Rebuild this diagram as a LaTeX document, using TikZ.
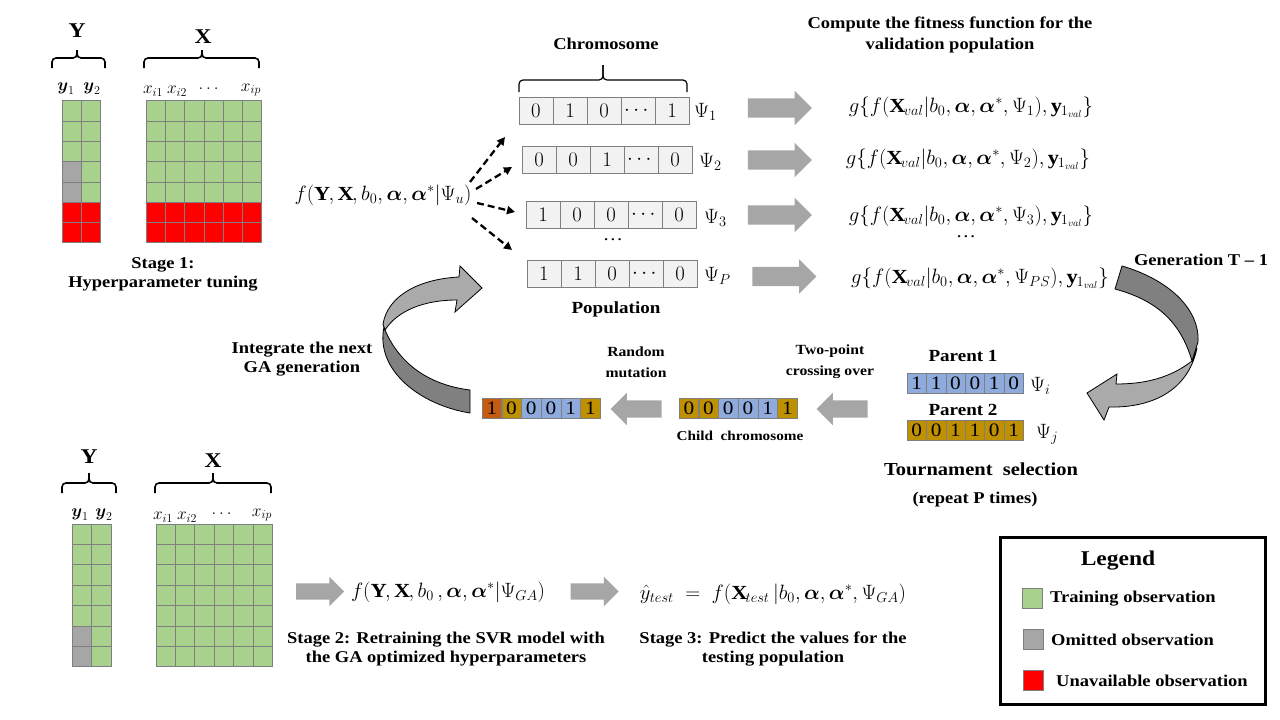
\documentclass[tikz,border=0pt]{standalone}
\usepackage{fontspec}
\setmainfont{Liberation Serif}[FakeStretch=1.12]
\usepackage{amsmath, amssymb}
\usetikzlibrary{shapes, arrows.meta, positioning, calc, decorations.pathreplacing}

\definecolor{traingreen}{RGB}{169, 209, 142}
\definecolor{omitgray}{RGB}{166, 166, 166}
\definecolor{unavred}{RGB}{255, 0, 0}
\definecolor{cellline}{RGB}{127, 127, 127}
\definecolor{genecell}{RGB}{242, 242, 242}
\definecolor{geneblue}{RGB}{143, 170, 220}
\definecolor{genegold}{RGB}{191, 144, 0}
\definecolor{genemut}{RGB}{197, 90, 17}
\definecolor{blockgray}{RGB}{166, 166, 166}
\definecolor{benddark}{RGB}{128, 128, 128}
\definecolor{bendlight}{RGB}{170, 170, 170}

\begin{document}
\begin{tikzpicture}[x=1pt, y=-1pt,
  lbl/.style={font=\bfseries\fontsize{16.5}{19}\selectfont, align=center, inner sep=0pt},
  smalllbl/.style={font=\bfseries\fontsize{14}{21}\selectfont, align=center, inner sep=0pt},
  headlbl/.style={font=\bfseries\fontsize{21}{24}\selectfont, inner sep=0pt},
  mathlbl/.style={font=\fontsize{20}{22}\selectfont, inner sep=0pt},
  collbl/.style={font=\fontsize{18.5}{20}\selectfont, inner sep=0pt},
  popcell/.style={draw=cellline, fill=genecell, minimum width=34pt, minimum height=27pt, inner sep=0pt, font=\fontsize{22}{24}\selectfont},
  gene/.style={draw=cellline, fill=#1, minimum width=19.5pt, minimum height=20pt, inner sep=0pt, font=\fontsize{19}{20}\selectfont},
  gridline/.style={draw=cellline, line width=0.8pt},
  bracket/.style={line width=1.6pt, rounded corners=4pt},
  blockarrow/.style={single arrow, fill=blockgray, draw=none, inner xsep=0pt, inner ysep=9.5pt, minimum height=64pt, single arrow head extend=7.5pt},
  backarrow/.style={blockarrow, inner ysep=8.5pt, minimum height=51pt, shape border rotate=180},
  stagearrow/.style={blockarrow, inner ysep=8pt, minimum height=48pt, single arrow head extend=6.5pt},
  fanarrow/.style={line width=2.3pt, dash pattern=on 7pt off 4pt, -{Triangle[length=8pt, width=8pt]}},
  bendarrow/.style={draw=black, line width=0.8pt},
  legendsq/.style={draw=cellline, minimum size=20pt, inner sep=0pt}
]
  \useasboundingbox (0,0) rectangle (1280,720);
  \fill[white] (0,0) rectangle (1280,720);

  % Stage 1: observations used for tuning
  \fill[traingreen] (62,100.7) rectangle (100.6,242.8);
  \fill[omitgray] (62,161.6) rectangle (81.3,202.2);
  \fill[unavred] (62,202.2) rectangle (100.6,242.8);
  \fill[traingreen] (146,100.7) rectangle (261.8,242.8);
  \fill[unavred] (146,202.2) rectangle (261.8,242.8);
  \foreach \r in {0,...,7} {
    \draw[gridline] (62,100.7+\r*20.3) -- (100.6,100.7+\r*20.3);
    \draw[gridline] (146,100.7+\r*20.3) -- (261.8,100.7+\r*20.3);
  }
  \foreach \c in {0,1,2} \draw[gridline] (62+\c*19.3,100.7) -- (62+\c*19.3,242.8);
  \foreach \c in {0,...,6} \draw[gridline] (146+\c*19.3,100.7) -- (146+\c*19.3,242.8);

  \draw[bracket] (52,68) |- (77,58) -- (77,50);
  \draw[bracket] (77,50) |- (105,58) -- (105,68);
  \draw[bracket] (144,68) |- (202,58) -- (202,50);
  \draw[bracket] (202,50) |- (259,58) -- (259,68);
  \node[headlbl] (ya) at (77,31) {Y};
  \node[headlbl] (xa) at (203,37) {X};
  \node[collbl] (ya1) at (66,89) {$\boldsymbol{y}_1$};
  \node[collbl] (ya2) at (92,89) {$\boldsymbol{y}_2$};
  \node[collbl] (xa1) at (153,91) {$x_{i1}$};
  \node[collbl] (xa2) at (177,91) {$x_{i2}$};
  \node[collbl] (xadots) at (210,89) {$\dots$};
  \node[collbl] (xap) at (251,90) {$x_{ip}$};
  \node[lbl] (stage1) at (163,274) {Stage 1:\\Hyperparameter tuning};

  % model and the initial population
  \node[mathlbl] (fu) at (383,195) {$f(\mathbf{Y},\mathbf{X},b_0,\boldsymbol{\alpha},\boldsymbol{\alpha}^*|\Psi_u)$};
  \coordinate (fu-o1) at (470,182); \coordinate (fan1) at (505,137);
  \coordinate (fu-o2) at (476,189); \coordinate (fan2) at (512,167);
  \coordinate (fu-o3) at (477,203); \coordinate (fan3) at (515,212);
  \coordinate (fu-o4) at (472,218); \coordinate (fan4) at (512,250);
  \draw[fanarrow] (fu-o1) -- (fan1);
  \draw[fanarrow] (fu-o2) -- (fan2);
  \draw[fanarrow] (fu-o3) -- (fan3);
  \draw[fanarrow] (fu-o4) -- (fan4);

  \foreach \b [count=\k] in {0,1,0,\cdots,1}
    \node[popcell] (popa-\k) at (502+34*\k,110.5) {$\b$};
  \foreach \b [count=\k] in {0,0,1,\cdots,0}
    \node[popcell] (popb-\k) at (505+34*\k,159.5) {$\b$};
  \foreach \b [count=\k] in {1,0,0,\cdots,0}
    \node[popcell] (popc-\k) at (509+34*\k,215) {$\b$};
  \foreach \b [count=\k] in {1,1,0,\cdots,0}
    \node[popcell] (popd-\k) at (510+34*\k,274) {$\b$};
  \node[font=\fontsize{18}{20}\selectfont] (popdots) at (613,240) {\dots};
  \draw[line width=1.2pt, rounded corners=4pt] (519,92) |- (603,80) -- (603,65);
  \draw[line width=1.2pt, rounded corners=4pt] (603,65) |- (687,80) -- (687,92);
  \node[font=\bfseries\fontsize{16.5}{18}\selectfont] (chromo) at (606,44) {Chromosome};
  \node[lbl, font=\bfseries\fontsize{17}{19}\selectfont] (pop) at (616,309) {Population};

  \node[mathlbl, anchor=west] (psia) at (694,112) {$\Psi_1$};
  \node[mathlbl, anchor=west] (psib) at (699,162) {$\Psi_2$};
  \node[mathlbl, anchor=west] (psic) at (704,218) {$\Psi_3$};
  \node[mathlbl, anchor=west] (psid) at (704,276) {$\Psi_P$};

  % fitness on the validation population
  \node[lbl, font=\bfseries\fontsize{16.5}{21}\selectfont] (fithead) at (950,35) {Compute the fitness function for the\\validation population};
  \node[blockarrow] (fit1) at (775,108) {};
  \node[blockarrow] (fit2) at (775,160) {};
  \node[blockarrow] (fit3) at (775,215) {};
  \node[blockarrow] (fit4) at (779.5,276.5) {};
  \node[mathlbl] (ga) at (971,107) {$g\{f(\mathbf{X}_{val}|b_0,\boldsymbol{\alpha},\boldsymbol{\alpha}^*,\Psi_1),\mathbf{y}_{1_{val}}\}$};
  \node[mathlbl] (gb) at (968,159) {$g\{f(\mathbf{X}_{val}|b_0,\boldsymbol{\alpha},\boldsymbol{\alpha}^*,\Psi_2),\mathbf{y}_{1_{val}}\}$};
  \node[mathlbl] (gc) at (971,216) {$g\{f(\mathbf{X}_{val}|b_0,\boldsymbol{\alpha},\boldsymbol{\alpha}^*,\Psi_3),\mathbf{y}_{1_{val}}\}$};
  \node[font=\fontsize{18}{20}\selectfont] (gdots) at (966,237) {\dots};
  \node[mathlbl] (gd) at (980,278) {$g\{f(\mathbf{X}_{val}|b_0,\boldsymbol{\alpha},\boldsymbol{\alpha}^*,\Psi_{PS}),\mathbf{y}_{1_{val}}\}$};
  \node[lbl] (gen) at (1201,260) {Generation T -- 1};

  % bent arrow to the parents
  \filldraw[bendarrow, fill=benddark] (1122,266) .. controls (1170,280) and (1200,310) .. (1198,342)
    -- (1192,361) .. controls (1180,320) and (1155,300) .. (1115,289) -- cycle;
  \filldraw[bendarrow, fill=bendlight] (1192,361) .. controls (1170,378) and (1145,384) .. (1116,384)
    -- (1117,374) -- (1087,393) -- (1104,420) -- (1109,407)
    .. controls (1150,408) and (1188,392) .. (1197,348) -- cycle;

  % tournament selection
  \node[lbl, font=\bfseries\fontsize{17}{19}\selectfont] (par1) at (963,356) {Parent 1};
  \foreach \b [count=\k] in {1,1,0,0,1,0}
    \node[gene=geneblue] (pa-\k) at (897.3+19.4*\k,383.5) {\b};
  \node[mathlbl, anchor=west] (psii) at (1030,386) {$\Psi_i$};
  \node[lbl, font=\bfseries\fontsize{17}{19}\selectfont] (par2) at (963,410) {Parent 2};
  \foreach \b [count=\k] in {0,0,1,1,0,1}
    \node[gene=genegold] (pb-\k) at (897.3+19.4*\k,430.5) {\b};
  \node[mathlbl, anchor=west] (psij) at (1036,434) {$\Psi_j$};
  \node[lbl, font=\bfseries\fontsize{18.3}{21}\selectfont] (tourn) at (981,469) {Tournament\ \ selection};
  \node[lbl] (repeat) at (975,500) {(repeat P times)};

  % crossing over and mutation
  \node[backarrow] (cross) at (846.5,409) {};
  \node[smalllbl] (crosslbl) at (830,362) {Two-point\\crossing over};
  \foreach \b/\c [count=\k] in {0/genegold,0/genegold,0/geneblue,0/geneblue,1/geneblue,1/genegold}
    \node[gene=\c] (ch-\k) at (669.15+19.7*\k,408.5) {\b};
  \node[lbl, font=\bfseries\fontsize{13.6}{16}\selectfont] (childlbl) at (740,436) {Child\ \ chromosome};
  \node[backarrow] (mutate) at (640.5,409) {};
  \node[smalllbl] (mutlbl) at (636,362) {Random\\mutation};
  \foreach \b/\c [count=\k] in {1/genemut,0/genegold,0/geneblue,0/geneblue,1/geneblue,1/genegold}
    \node[gene=\c] (mu-\k) at (472.15+19.7*\k,408.5) {\b};

  % bent arrow back to the population
  \filldraw[bendarrow, fill=benddark] (384,327) .. controls (375,370) and (420,405) .. (470,413)
    -- (470,390) .. controls (430,385) and (400,365) .. (385,330) -- cycle;
  \filldraw[bendarrow, fill=bendlight] (383,324) .. controls (388,295) and (420,279) .. (459,277)
    -- (460,266) -- (482,288) -- (455,312) -- (457,300)
    .. controls (425,300) and (398,310) .. (385,330) -- cycle;
  \node[lbl] (integ) at (302,359) {Integrate the next\\GA generation};

  % Stage 2: retraining
  \fill[traingreen] (72,524) rectangle (111,666.8);
  \fill[omitgray] (72,626) rectangle (91.5,666.8);
  \fill[traingreen] (156,524) rectangle (272.4,666.8);
  \foreach \r in {0,...,7} {
    \draw[gridline] (72,524+\r*20.4) -- (111,524+\r*20.4);
    \draw[gridline] (156,524+\r*20.4) -- (272.4,524+\r*20.4);
  }
  \foreach \c in {0,1,2} \draw[gridline] (72+\c*19.5,524) -- (72+\c*19.5,666.8);
  \foreach \c in {0,...,6} \draw[gridline] (156+\c*19.4,524) -- (156+\c*19.4,666.8);

  \draw[bracket] (62,493) |- (89,483) -- (89,473);
  \draw[bracket] (89,473) |- (116,483) -- (116,493);
  \draw[bracket] (155,493) |- (213,483) -- (213,473);
  \draw[bracket] (213,473) |- (271,483) -- (271,493);
  \node[headlbl] (yb) at (89,457) {Y};
  \node[headlbl] (xb) at (213,461) {X};
  \node[collbl] (yb1) at (80,515) {$\boldsymbol{y}_1$};
  \node[collbl] (yb2) at (104,515) {$\boldsymbol{y}_2$};
  \node[collbl] (xb1) at (163,517) {$x_{i1}$};
  \node[collbl] (xb2) at (187,517) {$x_{i2}$};
  \node[collbl] (xbdots) at (223,514) {$\dots$};
  \node[collbl] (xbp) at (262,515) {$x_{ip}$};

  \node[stagearrow] (retrain) at (316,591.5) {};
  \node[mathlbl] (fga) at (448,592) {$f(\mathbf{Y},\mathbf{X},b_0\,,\boldsymbol{\alpha},\boldsymbol{\alpha}^*|\Psi_{GA})$};
  \node[lbl] (stage2) at (446,649) {Stage 2: Retraining the SVR model with\\the GA optimized hyperparameters};

  % Stage 3: prediction
  \node[stagearrow] (predict) at (590.5,591.5) {};
  \node[mathlbl] (ftest) at (773,594) {$\hat{y}_{test}\;=\;f(\mathbf{X}_{test}\,|b_0,\boldsymbol{\alpha},\boldsymbol{\alpha}^*,\Psi_{GA})$};
  \node[lbl] (stage3) at (773,649) {Stage 3: Predict the values for the\\testing population};

  % Legend
  \node[draw, line width=2.5pt, minimum width=265pt, minimum height=167pt] (legend) at (1133,621) {};
  \node[headlbl] (legendlbl) at (1118,561) {Legend};
  \node[legendsq, fill=traingreen] (sqtrain) at (1032,598) {};
  \node[lbl, anchor=west] (lgtrain) at (1050,599) {Training observation};
  \node[legendsq, fill=omitgray] (sqomit) at (1033,639) {};
  \node[lbl, anchor=west] (lgomit) at (1051,640) {Omitted observation};
  \node[legendsq, fill=unavred] (squnav) at (1033.5,680.5) {};
  \node[lbl, anchor=west] (lgunav) at (1056,681) {Unavailable observation};
\end{tikzpicture}
\end{document}
